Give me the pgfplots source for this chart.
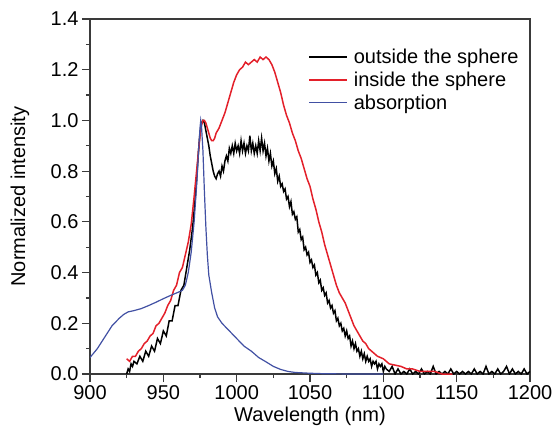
\documentclass[border=0pt]{standalone}
\usepackage{fontspec}
\setmainfont{Liberation Sans}
\usepackage{pgfplots}
\pgfplotsset{compat=1.18}
\usetikzlibrary{calc}
\definecolor{specRed}{HTML}{E3202A}
\definecolor{absBlue}{HTML}{4150A3}
\definecolor{frameGray}{HTML}{3A3A3A}

\pgfplotstableread{
x y
925 0.00
926 0.02
927 0.01
928 0.04
929 0.03
930 0.05
932 0.04
934 0.07
936 0.05
938 0.09
940 0.07
942 0.11
944 0.09
946 0.14
948 0.12
950 0.17
952 0.15
954 0.21
956 0.21
958 0.27
960 0.27
962 0.33
964 0.35
966 0.42
968 0.49
970 0.58
972 0.71
974 0.88
975 0.95
976 0.99
977 1.00
978 0.99
979 0.96
980 0.93
981 0.90
982 0.86
983 0.83
984 0.80
985 0.78
986 0.77
987 0.79
988 0.80
989 0.78
990 0.82
991 0.80
992 0.84
993 0.86
994 0.84
995 0.89
996 0.87
997 0.90
998 0.87
999 0.91
1000 0.88
1001 0.90
1002 0.87
1003 0.92
1004 0.88
1005 0.91
1006 0.87
1007 0.90
1008 0.88
1009 0.94
1010 0.88
1011 0.91
1012 0.87
1013 0.90
1014 0.87
1015 0.92
1016 0.88
1017 0.93
1018 0.88
1019 0.91
1020 0.86
1021 0.89
1022 0.84
1023 0.87
1024 0.82
1025 0.84
1026 0.79
1027 0.81
1028 0.76
1029 0.78
1030 0.74
1031 0.75
1032 0.72
1033 0.73
1034 0.69
1035 0.70
1036 0.66
1037 0.68
1038 0.63
1039 0.64
1040 0.61
1041 0.62
1042 0.56
1043 0.57
1044 0.53
1045 0.54
1046 0.49
1047 0.50
1048 0.47
1049 0.48
1050 0.44
1051 0.45
1052 0.42
1053 0.43
1054 0.39
1055 0.40
1056 0.36
1057 0.37
1058 0.33
1059 0.34
1060 0.31
1061 0.32
1062 0.28
1063 0.29
1064 0.26
1065 0.27
1066 0.24
1067 0.25
1068 0.21
1069 0.22
1070 0.19
1071 0.20
1072 0.17
1073 0.18
1074 0.15
1075 0.17
1076 0.14
1077 0.15
1078 0.11
1079 0.13
1080 0.10
1081 0.12
1082 0.09
1083 0.10
1084 0.07
1085 0.09
1086 0.06
1087 0.08
1088 0.05
1089 0.07
1090 0.05
1091 0.06
1092 0.03
1093 0.05
1094 0.04
1095 0.05
1096 0.02
1097 0.04
1098 0.03
1099 0.04
1100 0.01
1101 0.03
1102 0.02
1104 0.01
1106 0.03
1108 0.00
1110 0.02
1112 0.00
1114 0.01
1116 0.00
1118 0.02
1120 0.00
1122 0.01
1124 0.00
1126 0.02
1128 0.00
1130 0.01
1132 0.00
1134 0.03
1136 0.00
1138 0.01
1140 0.00
1142 0.01
1144 0.00
1146 0.02
1148 0.00
1150 0.01
1152 0.00
1154 0.01
1156 0.00
1158 0.01
1160 0.00
1162 0.02
1164 0.00
1166 0.01
1168 0.00
1170 0.03
1172 0.00
1174 0.01
1176 0.00
1178 0.02
1180 0.00
1182 0.01
1184 0.03
1186 0.00
1188 0.02
1190 0.00
1192 0.01
1194 0.00
1196 0.02
1198 0.00
1200 0.01
}\outside

\pgfplotstableread{
x y
925 0.06
927 0.05
929 0.07
931 0.07
933 0.09
935 0.10
937 0.12
939 0.13
941 0.15
943 0.16
945 0.19
947 0.20
949 0.22
951 0.24
953 0.27
955 0.29
957 0.33
959 0.35
961 0.40
963 0.42
965 0.47
967 0.52
969 0.59
971 0.70
973 0.82
975 0.94
976 0.98
977 1.00
978 1.00
979 0.99
980 0.97
981 0.95
982 0.93
983 0.92
984 0.92
985 0.93
986 0.95
988 0.97
990 1.00
992 1.03
994 1.07
996 1.11
998 1.15
1000 1.18
1002 1.20
1004 1.21
1006 1.23
1008 1.22
1010 1.23
1012 1.24
1014 1.23
1016 1.25
1018 1.24
1020 1.25
1022 1.24
1024 1.22
1026 1.19
1028 1.15
1030 1.11
1032 1.06
1034 1.02
1036 0.99
1038 0.95
1040 0.92
1042 0.88
1044 0.85
1046 0.81
1048 0.77
1050 0.74
1052 0.69
1054 0.65
1056 0.60
1058 0.56
1060 0.51
1062 0.47
1064 0.43
1066 0.39
1068 0.35
1070 0.32
1072 0.30
1074 0.28
1076 0.25
1078 0.22
1080 0.19
1082 0.17
1084 0.15
1086 0.13
1088 0.12
1090 0.10
1092 0.09
1094 0.08
1096 0.07
1098 0.065
1100 0.06
1104 0.04
1108 0.035
1112 0.03
1116 0.02
1120 0.02
1125 0.01
1130 0.01
1135 0.01
1140 0.00
1147 0.00
}\inside

\pgfplotstableread{
x y
900 0.065
905 0.10
910 0.145
915 0.19
920 0.22
923 0.235
926 0.245
930 0.25
935 0.258
940 0.27
945 0.283
950 0.297
955 0.31
960 0.322
963 0.33
965 0.35
967 0.40
969 0.48
971 0.60
973 0.77
974 0.88
975 0.97
975.5 1.00
976 0.98
977 0.88
978 0.72
979 0.58
980 0.47
981 0.39
983 0.32
985 0.26
987 0.225
990 0.20
995 0.17
1000 0.14
1005 0.11
1010 0.09
1015 0.065
1020 0.048
1025 0.03
1030 0.018
1035 0.01
1040 0.006
1050 0.003
1060 0.001
1080 0.0
1100 0.0
}\absorption

\begin{document}
\begin{tikzpicture}
\begin{axis}[
    scale only axis,
    width=440pt, height=355pt,
    xmin=900, xmax=1200,
    ymin=0, ymax=1.4,
    xtick={900,950,...,1200},
    ytick={0,0.2,...,1.4},
    minor x tick num=1,
    minor y tick num=1,
    xtick pos=bottom, ytick pos=left,
    tick align=outside,
    major tick length=8pt,
    minor tick length=4pt,
    axis line style={frameGray, line width=1.2pt},
    every tick/.style={frameGray, line width=1.2pt},
    /pgf/number format/assume math mode=true,
    yticklabel style={/pgf/number format/.cd, fixed, fixed zerofill, precision=1},
    xticklabel style={/pgf/number format/.cd, 1000 sep={}},
    ticklabel style={font=\fontsize{20}{24}\selectfont},
    xlabel={Wavelength (nm)},
    ylabel={Normalized intensity},
    every axis x label/.style={at={(axis description cs:0.5,-0.118)}, anchor=center,
        font=\fontsize{20}{24}\selectfont},
    every axis y label/.style={at={(axis description cs:-0.159,0.5)}, anchor=center, rotate=90,
        font=\fontsize{20}{24}\selectfont},
    legend cell align=left,
    legend style={draw=none, fill=none, at={(axis description cs:0.489,0.925)}, anchor=north west,
        font=\fontsize{20}{24}\selectfont, row sep=5pt,
        nodes={inner sep=1pt}},
    legend image code/.code={\draw[#1] (0pt,0pt) -- (38pt,0pt); \path (43pt,0pt);},
]
\addplot[black, line width=1.5pt] table {\outside};
\addplot[specRed, line width=1.5pt] table {\inside};
\addplot[absBlue, line width=1.2pt] table {\absorption};
\legend{outside the sphere, inside the sphere, absorption}
\end{axis}
\pgfresetboundingbox
\useasboundingbox ($(current axis.south west)+(-90pt,-62pt)$) rectangle ($(current axis.north east)+(25pt,19pt)$);
\end{tikzpicture}
\end{document}
